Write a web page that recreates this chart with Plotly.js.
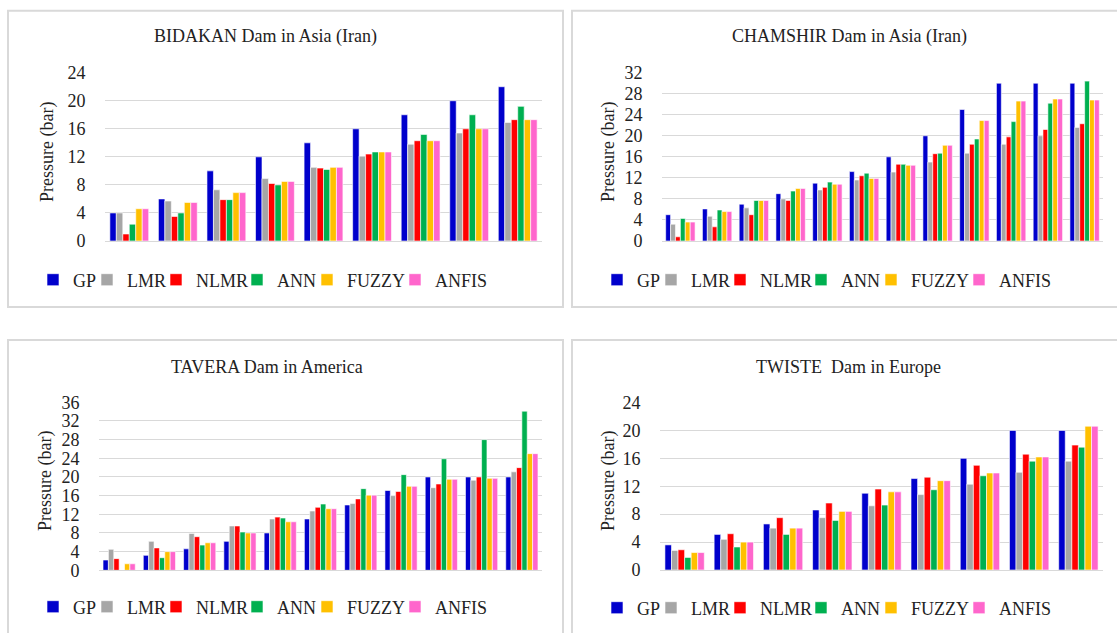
<!DOCTYPE html>
<html><head><meta charset="utf-8">
<script src="https://cdn.plot.ly/plotly-3.0.1.min.js"></script>
<style>html,body{margin:0;padding:0;background:#fff}#chart{width:1117px;height:633px}</style>
</head><body><div id="chart"></div>
<script>
// ---- series names & colours ----
const models = ['GP', 'LMR', 'NLMR', 'ANN', 'FUZZY', 'ANFIS'];
const modelColors = ['#0000CC', '#A6A6A6', '#FF0000', '#00B050', '#FFC000', '#FF66CC'];

// ---- BIDAKAN Dam in Asia (Iran) ----
const bidakanCases = ['1', '2', '3', '4', '5', '6', '7', '8', '9'];
const bidakanGP    = [4, 6, 10, 12, 14, 16, 18, 20, 22];
const bidakanLMR   = [4, 5.7, 7.3, 8.9, 10.5, 12.1, 13.8, 15.4, 16.9];
const bidakanNLMR  = [1, 3.5, 5.9, 8.2, 10.4, 12.4, 14.3, 16.0, 17.3];
const bidakanANN   = [2.4, 4, 5.9, 8.0, 10.2, 12.7, 15.2, 18.0, 19.2];
const bidakanFUZZY = [4.6, 5.5, 6.9, 8.5, 10.5, 12.7, 14.3, 16.0, 17.3];
const bidakanANFIS = [4.6, 5.5, 6.9, 8.5, 10.5, 12.7, 14.3, 16.0, 17.3];

// ---- CHAMSHIR Dam in Asia (Iran) ----
const chamshirCases = ['1', '2', '3', '4', '5', '6', '7', '8', '9', '10', '11', '12'];
const chamshirGP    = [5, 6.1, 7, 9, 11, 13.2, 16, 20, 25, 30, 30, 30];
const chamshirLMR   = [3.2, 4.7, 6.3, 8.0, 9.7, 11.6, 13.1, 15.0, 16.7, 18.4, 20.0, 21.6];
const chamshirNLMR  = [0.8, 2.7, 5.0, 7.7, 10.2, 12.4, 14.6, 16.6, 18.4, 19.8, 21.2, 22.3];
const chamshirANN   = [4.3, 5.9, 7.7, 9.5, 11.2, 12.9, 14.6, 16.7, 19.4, 22.7, 26.2, 30.4];
const chamshirFUZZY = [3.6, 5.6, 7.7, 10.0, 10.8, 11.9, 14.4, 18.2, 22.9, 26.6, 27.0, 26.8];
const chamshirANFIS = [3.6, 5.6, 7.7, 10.0, 10.8, 11.9, 14.4, 18.2, 22.9, 26.6, 27.0, 26.8];

// ---- TAVERA Dam in America ----
const taveraCases = ['1', '2', '3', '4', '5', '6', '7', '8', '9', '10', '11'];
const taveraGP    = [2.2, 3.2, 4.6, 6.2, 8, 11, 14, 17.1, 20, 20, 20];
const taveraLMR   = [4.5, 6.2, 7.9, 9.5, 11.0, 12.7, 14.3, 16.0, 17.7, 19.3, 21.1];
const taveraNLMR  = [2.5, 4.8, 7.2, 9.5, 11.4, 13.5, 15.3, 16.9, 18.5, 20.0, 22.0];
const taveraANN   = [0, 2.7, 5.4, 8.2, 11.2, 14.2, 17.5, 20.5, 23.9, 28.0, 34.1];
const taveraFUZZY = [1.4, 4.0, 5.9, 8.0, 10.4, 13.2, 16.1, 18.0, 19.5, 19.7, 25.0];
const taveraANFIS = [1.4, 4.0, 5.9, 8.0, 10.4, 13.2, 16.1, 18.0, 19.5, 19.7, 25.0];

// ---- TWISTE Dam in Europe ----
const twisteCases = ['1', '2', '3', '4', '5', '6', '7', '8', '9'];
const twisteGP    = [3.6, 5.1, 6.6, 8.6, 11, 13.1, 16, 20, 20];
const twisteLMR   = [2.8, 4.4, 6.0, 7.5, 9.2, 10.8, 12.3, 14.0, 15.6];
const twisteNLMR  = [2.9, 5.2, 7.5, 9.6, 11.6, 13.3, 15.0, 16.6, 17.9];
const twisteANN   = [1.8, 3.3, 5.1, 7.1, 9.3, 11.5, 13.5, 15.6, 17.6];
const twisteFUZZY = [2.5, 4.0, 6.0, 8.4, 11.2, 12.8, 13.9, 16.2, 20.6];
const twisteANFIS = [2.5, 4.0, 6.0, 8.4, 11.2, 12.8, 13.9, 16.2, 20.6];

const panelTitles = ['BIDAKAN Dam in Asia (Iran)', 'CHAMSHIR Dam in Asia (Iran)',
                     'TAVERA Dam in America', 'TWISTE  Dam in Europe'];
const yTitle = 'Pressure (bar)';
const yMax = [24, 32, 36, 24];

// ---- layout geometry (pixels) ----
const W = 1117, H = 633;
const px = v => v / W, py = v => 1 - v / H;
const legendTextLeft = [69, 123, 192, 273, 343, 431];   // left panels; right panels shifted by +564
const panels = [
  {cases: bidakanCases, series: [bidakanGP, bidakanLMR, bidakanNLMR, bidakanANN, bidakanFUZZY, bidakanANFIS],
   plot: [105, 542, 72.7, 241], box: [8, 563, 10.7, 307], title: [265, 37], ytitle: [47, 152], legend: [0, 280]},
  {cases: chamshirCases, series: [chamshirGP, chamshirLMR, chamshirNLMR, chamshirANN, chamshirFUZZY, chamshirANFIS],
   plot: [662, 1103, 72.7, 241], box: [572, 1130, 10.7, 307], title: [849, 37], ytitle: [608, 152], legend: [564, 280]},
  {cases: taveraCases, series: [taveraGP, taveraLMR, taveraNLMR, taveraANN, taveraFUZZY, taveraANFIS],
   plot: [99, 542, 402.3, 570.3], box: [8, 563, 340, 650], title: [267, 367], ytitle: [45, 481], legend: [0, 607]},
  {cases: twisteCases, series: [twisteGP, twisteLMR, twisteNLMR, twisteANN, twisteFUZZY, twisteANFIS],
   plot: [660, 1103, 402.5, 570], box: [572, 1130, 340, 650], title: [848, 367], ytitle: [608, 481], legend: [564, 608]}
];

const font = 'Liberation Serif, Times New Roman, serif';
const txt = '#222222';
const traces = [];
const layout = {
  width: W, height: H, margin: {l: 0, r: 0, t: 0, b: 0},
  paper_bgcolor: '#ffffff', plot_bgcolor: '#ffffff',
  barmode: 'group', bargap: 0.2, bargroupgap: 0, showlegend: true,
  font: {family: font, size: 18, color: txt},
  shapes: [], annotations: []
};

let legendCount = 0;
panels.forEach((p, i) => {
  const n = i === 0 ? '' : String(i + 1);
  p.series.forEach((vals, k) => {
    legendCount += 1;
    const legendKey = legendCount === 1 ? 'legend' : 'legend' + legendCount;
    traces.push({
      type: 'bar', name: models[k], x: p.cases, y: vals,
      xaxis: 'x' + n, yaxis: 'y' + n, legend: legendKey, showlegend: true,
      marker: {color: modelColors[k], line: {color: '#ffffff', width: 0.6}},
      hoverinfo: 'x+y+name'
    });
    // one legend entry per series, placed under its panel
    layout[legendKey] = {
      visible: true,
      orientation: 'h', x: px(p.legend[0] + legendTextLeft[k] - 36), xanchor: 'left',
      y: py(p.legend[1]), yanchor: 'middle',
      font: {family: font, size: 18, color: txt}, bgcolor: 'rgba(0,0,0,0)', borderwidth: 0,
      itemwidth: 30, itemclick: false, itemdoubleclick: false
    };
  });
  layout['xaxis' + n] = {
    domain: [px(p.plot[0]), px(p.plot[1])], anchor: 'y' + n, type: 'category',
    showticklabels: false, ticks: '', showgrid: false, zeroline: false,
    showline: true, linecolor: '#d9d9d9', linewidth: 1, fixedrange: true
  };
  layout['yaxis' + n] = {
    domain: [py(p.plot[3]), py(p.plot[2])], anchor: 'x' + n,
    range: [0, yMax[i]], tick0: 0, dtick: 4, gridcolor: '#d9d9d9', gridwidth: 1,
    zeroline: false, showline: false, ticks: 'outside', ticklen: 15,
    tickcolor: 'rgba(0,0,0,0)', tickfont: {family: font, size: 18, color: txt}, fixedrange: true
  };
  layout.shapes.push({
    type: 'rect', xref: 'paper', yref: 'paper',
    x0: px(p.box[0]), x1: px(p.box[1]), y0: py(p.box[3]), y1: py(p.box[2]),
    line: {color: '#d9d9d9', width: 2}, fillcolor: 'rgba(0,0,0,0)', layer: 'below'
  });
  layout.annotations.push({
    text: panelTitles[i], xref: 'paper', yref: 'paper', x: px(p.title[0]), y: py(p.title[1]),
    xanchor: 'center', yanchor: 'middle', showarrow: false, font: {family: font, size: 18, color: txt}
  });
  layout.annotations.push({
    text: yTitle, textangle: -90, xref: 'paper', yref: 'paper', x: px(p.ytitle[0]), y: py(p.ytitle[1]),
    xanchor: 'center', yanchor: 'middle', showarrow: false, font: {family: font, size: 18, color: txt}
  });
});

Plotly.newPlot('chart', traces, layout, {displayModeBar: false, responsive: false});
</script>
</body></html>
